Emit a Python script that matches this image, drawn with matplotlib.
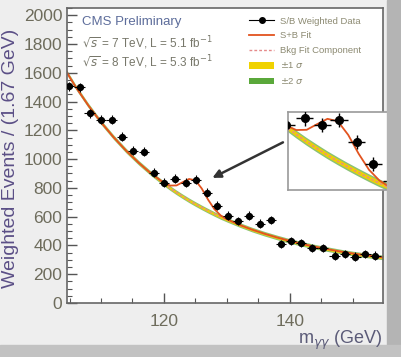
import matplotlib
matplotlib.use("Agg")
import matplotlib.pyplot as plt
from matplotlib.lines import Line2D
from matplotlib.patches import Patch, Rectangle
from matplotlib.ticker import MultipleLocator

plt.rcParams["font.family"] = ["Liberation Sans", "DejaVu Sans"]
plt.rcParams["mathtext.fontset"] = "dejavusans"

# weighted data points (bin centres, GeV) and S/B weighted events
mass = [104.9, 106.6, 108.2, 110.0, 111.7, 113.3, 115.1, 116.8, 118.4, 120.0,
        121.8, 123.5, 125.1, 126.8, 128.4, 130.2, 131.8, 133.5, 135.3, 137.0,
        138.6, 140.2, 141.8, 143.6, 145.3, 147.1, 148.8, 150.4, 152.0, 153.6]
events = [1505, 1498, 1317, 1275, 1275, 1157, 1059, 1052, 906, 836,
          864, 836, 857, 767, 676, 606, 571, 606, 551, 578,
          411, 432, 418, 383, 383, 328, 341, 321, 341, 328]
events_err = [30] * len(mass)

# fit curves
fit_x = [104, 106, 108, 110, 112, 114, 116, 118, 120, 121, 122, 123, 124, 125,
         126, 127, 128, 129, 130, 132, 134, 136, 138, 140, 142, 144, 146, 148,
         150, 152, 154, 156]
bkg_fit = [1643, 1500, 1372, 1256, 1152, 1058, 974, 898, 830, 798, 768, 740, 713, 688,
           664, 641, 619, 598, 579, 543, 510, 481, 455, 431, 410, 391, 374, 358,
           344, 332, 321, 310]
sb_fit = [1643, 1500, 1372, 1256, 1152, 1058, 974, 898, 835, 816, 817, 840, 862, 852,
          796, 719, 653, 609, 582, 543, 510, 481, 455, 431, 410, 391, 374, 358,
          344, 332, 321, 310]
band1 = [9] * len(fit_x)
band2 = [16] * len(fit_x)

YELLOW = "#f0d200"
GREEN = "#5aa83a"
RED = "#e2531f"
PINK = "#e58a8a"


def draw(ax, ms, elw):
    lo2 = [b - e for b, e in zip(bkg_fit, band2)]
    hi2 = [b + e for b, e in zip(bkg_fit, band2)]
    lo1 = [b - e for b, e in zip(bkg_fit, band1)]
    hi1 = [b + e for b, e in zip(bkg_fit, band1)]
    ax.fill_between(fit_x, lo2, hi2, color=GREEN, lw=0, alpha=0.7)
    ax.fill_between(fit_x, lo1, hi1, color=YELLOW, lw=0)
    ax.plot(fit_x, bkg_fit, color=PINK, lw=1.0, ls=(0, (2, 1.5)))
    ax.plot(fit_x, sb_fit, color=RED, lw=1.3)
    ax.errorbar(mass, events, yerr=events_err, xerr=0.83, fmt="o", color="black",
                ms=ms, elinewidth=elw, capsize=0, zorder=5)


fig = plt.figure(figsize=(4.02, 3.57), dpi=100)
fig.patch.set_facecolor("#eeeeee")
# photo shadow on the right / bottom
fig.patches.append(Rectangle((0.962, 0), 0.04, 1, transform=fig.transFigure,
                             color="#b4b4b4", zorder=0))
fig.patches.append(Rectangle((0, 0), 1, 0.035, transform=fig.transFigure,
                             color="#c2c2c2", zorder=0))

ax = fig.add_axes([67 / 402, 1 - 303 / 357, (383 - 67) / 402, (303 - 8) / 357])
ax.set_facecolor("white")
draw(ax, 4.2, 0.8)
ax.set_xlim(104.6, 154.8)
ax.set_ylim(0, 2050)
ax.xaxis.set_major_locator(MultipleLocator(20))
ax.xaxis.set_minor_locator(MultipleLocator(5))
ax.yaxis.set_major_locator(MultipleLocator(200))
ax.yaxis.set_minor_locator(MultipleLocator(50))
ax.tick_params(which="both", direction="in", colors="#555555", labelcolor="#6e6c5c",
               labelsize=12.5)
ax.tick_params(which="major", length=7, width=1)
ax.tick_params(which="minor", length=3.5, width=0.8)
ax.tick_params(axis="x", pad=8)
for s in ax.spines.values():
    s.set_color("#666666")
    s.set_linewidth(1.2)

# arrow to the peak
ax.annotate("", xy=(127.3, 861), xytext=(139.3, 1125),
            arrowprops=dict(arrowstyle="-|>", color="#333333", lw=1.8, mutation_scale=12))

handles = [
    Line2D([], [], color="black", marker="o", ms=4, lw=0.8),
    Line2D([], [], color=RED, lw=1.3),
    Line2D([], [], color=PINK, lw=1.0, ls=(0, (2, 1.5))),
    Patch(facecolor=YELLOW, edgecolor="none"),
    Patch(facecolor=GREEN, edgecolor="none"),
]
labels = ["S/B Weighted Data", "S+B Fit", "Bkg Fit Component", r"$\pm$1 $\sigma$", r"$\pm$2 $\sigma$"]
leg = ax.legend(handles, labels, loc="upper left", bbox_to_anchor=(0.55, 1.0),
                frameon=False, fontsize=6.8, labelspacing=0.6, handlelength=2.6,
                handletextpad=0.6)
for t in leg.get_texts():
    t.set_color("#8c8a72")

fig.text(82 / 402, 1 - 22 / 357, "CMS Preliminary", color="#5d6d9b", fontsize=9.5, va="center")
fig.text(82 / 402, 1 - 43 / 357, r"$\sqrt{s}$ = 7 TeV, L = 5.1 fb$^{-1}$", color="#77776a",
         fontsize=8.5, va="center")
fig.text(82 / 402, 1 - 62 / 357, r"$\sqrt{s}$ = 8 TeV, L = 5.3 fb$^{-1}$", color="#77776a",
         fontsize=8.5, va="center")

fig.text(11 / 402, 1 - 158 / 357, "Weighted Events / (1.67 GeV)", rotation=90,
         color="#5b4f86", fontsize=14, ha="center", va="center")
fig.text(383 / 402, 1 - 340 / 357, r"m$_{\gamma\gamma}$ (GeV)", color="#5b5b78",
         fontsize=13, ha="right", va="center")

# zoomed inset on the peak
ins = fig.add_axes([288 / 402, 1 - 190 / 357, 108 / 402, 78 / 357])
ins.set_facecolor("white")
draw(ins, 5.5, 1.0)
ins.set_xlim(120.2, 130.6)
ins.set_ylim(570, 890)
ins.set_xticks([])
ins.set_yticks([])
for s in ins.spines.values():
    s.set_color("#9a9a9a")
    s.set_linewidth(1.2)

fig.savefig("out.png", dpi=100, facecolor=fig.get_facecolor())
